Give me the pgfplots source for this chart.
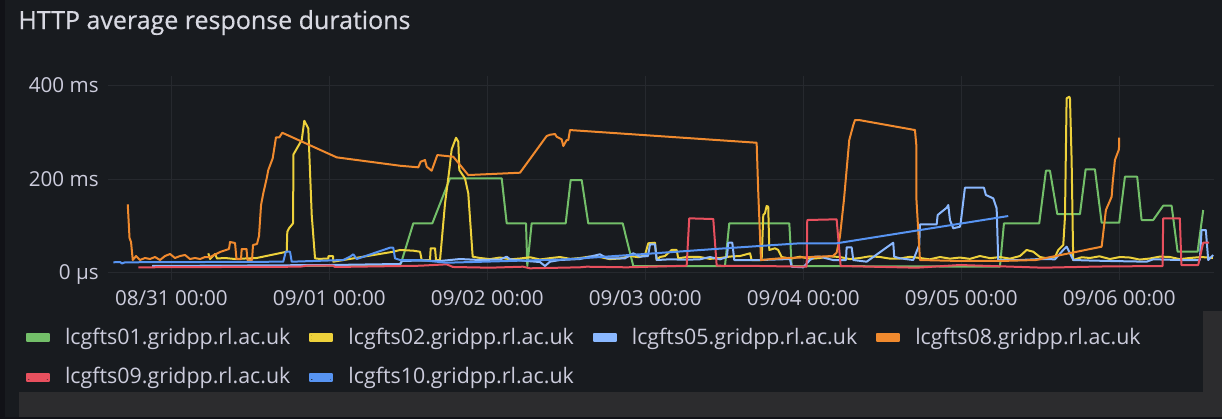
\documentclass[border=0pt]{standalone}
\usepackage{fontspec}
\setmainfont{Open Sans}
\newfontfamily\titlefont{Open Sans}[FakeBold=0.6]
\usepackage{pgfplots}
\pgfplotsset{compat=1.18}
\definecolor{bgdark}{HTML}{111217}
\definecolor{panel}{HTML}{181B1F}
\definecolor{greyband}{HTML}{2C2C2E}
\definecolor{gridc}{HTML}{26292E}
\definecolor{txt}{HTML}{CCCCDC}
\definecolor{ttl}{HTML}{D8D9E2}
\definecolor{cgreen}{HTML}{73BF69}
\definecolor{cyellow}{HTML}{EDD13B}
\definecolor{clblue}{HTML}{8AB8FF}
\definecolor{corange}{HTML}{F08A2E}
\definecolor{cred}{HTML}{E8505E}
\definecolor{cblue}{HTML}{5794F2}
\newcommand{\ticksize}{\fontsize{10.3}{12}\selectfont}
\newcommand{\legsize}{\fontsize{10.7}{12.5}\selectfont}
\newcommand{\titlesize}{\titlefont\fontsize{12.5}{14}\selectfont}
\begin{document}
\begin{tikzpicture}
\path[use as bounding box] (0pt,0pt) rectangle (611pt,209.5pt);
\fill[bgdark] (0pt,0pt) rectangle (611pt,209.5pt);
\fill[panel] (2.5pt,1pt) rectangle (611pt,209.5pt);
\fill[greyband] (9.5pt,1pt) rectangle (611pt,13.5pt);
\fill[greyband] (601.5pt,1pt) rectangle (611pt,54pt);
\node[anchor=base west, inner sep=0pt, text=ttl, font=\titlesize] at (9pt,195pt) {HTTP average response durations};
\begin{axis}[
  at={(54pt,69.5pt)}, anchor=south west,
  scale only axis, width=553pt, height=102pt,
  xmin=-9.62, xmax=158.4, ymin=-15.6, ymax=420,
  axis line style={draw=none},
  major tick length=0pt,
  xtick={0,24,48,72,96,120,144},
  xticklabels={08/31 00:00,09/01 00:00,09/02 00:00,09/03 00:00,09/04 00:00,09/05 00:00,09/06 00:00},
  ytick={0,200,400},
  yticklabels={0 µs,200 ms,400 ms},
  grid=major, major grid style={draw=gridc, line width=0.5pt},
  ticklabel style={text=txt, font=\ticksize},
  xticklabel style={anchor=base, inner sep=0pt, yshift=-12.5pt},
  yticklabel style={anchor=base east, inner sep=0pt, xshift=-4.5pt, yshift=-3.5pt},
  every axis plot/.append style={line width=1pt, line join=round, mark=none},
  legend columns=4,
  legend cell align=left,
  legend style={draw=none, fill=none, inner sep=0pt, outer sep=0pt,
    at={(axis description cs:-0.0741,-0.2353)}, anchor=north west,
    font=\legsize, text=txt, row sep=10pt,
    nodes={inner sep=0pt},
    /tikz/every odd column/.append style={column sep=7.5pt},
    /tikz/every even column/.append style={column sep=9.5pt}},
  legend image code/.code={\path (0pt,-1.75pt) rectangle (11pt,1.75pt); \draw[line width=3.2pt, line cap=round] (1.6pt,0pt) -- (9.4pt,0pt);},
]
% lcgfts01 (green)
\addplot[cgreen] coordinates {(19.55,14.3) (34.74,16.4) (34.89,20.1) (36.76,105.4) (39.65,105.4) (42.33,201.5) (50.19,201.5) (50.95,105.4) (53.88,105.4) (54.08,14.3) (54.74,105.4) (59.91,105.4) (60.67,197.9) (62.34,197.9) (63.34,105.4) (68.57,105.4) (70.18,14.3) (84.11,14.3) (84.76,105.4) (93.88,105.4) (94.24,14.3) (125.88,12.8) (126.49,105.4) (131.85,105.4) (132.87,217.7) (133.48,217.7) (134.59,125.3) (138.04,125.3) (138.90,220.7) (140.31,220.7) (141.33,106.7) (144.00,106.7) (144.87,204.9) (146.73,204.9) (147.40,112.5) (149.16,112.5) (150.68,143.0) (151.96,143.0) (152.87,44.8) (155.91,44.8) (156.76,133.8)};
\addlegendentry{lcgfts01.gridpp.rl.ac.uk}
% lcgfts02 (yellow)
\addplot[cyellow] coordinates {(5.62,41.4) (5.88,29.2) (6.64,39.9) (6.94,30.3) (8.15,31.4) (9.67,29.2) (11.19,30.3) (12.97,31.4) (17.53,44.8) (17.62,87.5) (17.88,94.8) (18.49,105.4) (18.56,252.7) (19.81,283.3) (20.20,324.4) (20.81,308.2) (21.33,123.2) (21.83,30.7) (22.59,29.2) (23.35,30.3) (23.85,30.3) (23.88,35.6) (24.56,35.6) (24.61,23.5) (33.72,44.8) (34.74,48.5) (36.76,47.0) (37.78,44.8) (38.04,27.1) (39.30,27.1) (39.40,52.1) (40.06,52.1) (40.21,27.1) (40.82,27.1) (41.58,148.1) (42.23,219.2) (42.59,263.4) (43.25,288.2) (43.60,279.6) (43.75,219.2) (44.61,201.5) (45.11,169.5) (45.78,34.2) (46.89,31.4) (48.4,29.0) (49.93,32.4) (51.5,28.5) (52.97,30.3) (54.5,33.0) (56.00,28.2) (57.5,31.0) (59.04,33.5) (60.6,29.5) (62.08,31.4) (63.6,34.5) (65.12,33.5) (66.6,29.0) (68.16,30.3) (69.68,35.6) (71.0,33.0) (71.96,37.8) (72.46,62.8) (73.48,64.0) (73.73,27.1) (74.23,33.5) (74.99,35.6) (76.01,48.5) (76.77,48.5) (77.01,30.7) (78.6,34.0) (80.31,33.5) (81.8,29.5) (83.35,31.4) (84.9,34.5) (86.39,35.6) (87.91,41.4) (88.16,27.1) (89.68,27.1) (89.93,123.2) (90.18,126.8) (90.44,142.4) (90.68,140.9) (90.84,48.5) (91.70,52.1) (92.20,48.5) (92.72,33.5) (94.1,30.0) (95.50,34.2) (97.0,29.5) (98.54,31.4) (100.0,35.0) (101.57,33.5) (103.1,29.0) (104.61,31.4) (106.1,35.0) (107.65,33.5) (109.2,30.0) (110.69,30.3) (112.2,34.0) (113.73,31.4) (115.2,28.5) (116.77,33.5) (118.3,30.0) (119.80,32.4) (121.3,29.5) (122.84,35.6) (124.4,31.0) (125.88,33.5) (127.4,30.0) (128.92,35.6) (129.94,48.5) (130.94,44.8) (131.96,33.5) (133.1,30.5) (134.24,33.5) (134.74,48.5) (135.50,59.1) (135.76,119.5) (136.01,372.3) (136.41,375.7) (136.52,372.3) (136.77,240.6) (137.01,27.1) (138.3,33.0) (139.54,31.4) (141.0,35.0) (142.58,29.2) (144.1,33.5) (145.62,32.4) (147.1,28.0) (148.66,30.3) (150.2,34.5) (151.69,33.5) (153.2,29.0) (154.73,31.4) (156.5,33.5) (158.23,31.4)};
\addlegendentry{lcgfts02.gridpp.rl.ac.uk}
% lcgfts05 (light blue)
\addplot[clblue] coordinates {(-2.93,14.3) (11.95,15.4) (24.11,16.4) (34.74,18.6) (35.04,25.0) (37.78,26.0) (40.82,25.0) (43.86,29.2) (46.89,27.1) (49.93,28.2) (50.95,34.2) (51.45,28.6) (54.03,25.0) (56.00,22.8) (56.77,14.3) (57.52,23.5) (59.04,27.1) (62.08,29.2) (65.12,39.3) (66.18,30.7) (68.92,30.7) (70.18,41.4) (71.20,34.2) (72.41,35.6) (72.72,60.6) (73.48,60.6) (73.73,27.1) (75.75,28.6) (78.03,27.7) (80.31,28.6) (81.83,33.5) (83.35,28.6) (84.41,33.5) (84.61,64.0) (85.22,64.0) (85.52,27.1) (89.42,27.1) (93.98,29.2) (94.24,12.8) (96.00,11.5) (97.02,27.1) (97.78,34.2) (98.54,34.2) (100.51,27.1) (102.49,27.1) (102.59,54.2) (103.35,54.2) (103.60,27.1) (105.63,23.5) (109.67,64.0) (109.82,34.2) (110.69,30.7) (112.71,27.1) (113.62,59.1) (113.73,103.3) (116.27,103.3) (116.42,123.2) (117.79,138.7) (118.03,144.5) (118.29,112.5) (118.79,94.8) (119.80,98.2) (119.91,105.4) (120.56,181.4) (123.45,181.4) (123.75,165.9) (124.86,158.8) (125.38,137.5) (125.62,27.1) (128.92,27.1) (131.96,29.2) (134.24,28.6) (135.50,48.5) (136.01,55.5) (136.52,41.4) (137.02,27.1) (139.54,26.0) (142.58,25.0) (148.16,23.5) (149.16,28.6) (153.21,27.1) (156.25,27.1) (156.51,91.1) (157.16,91.1) (157.52,27.1) (158.28,37.8)};
\addlegendentry{lcgfts05.gridpp.rl.ac.uk}
% lcgfts08 (orange)
\addplot[corange] coordinates {(-6.62,146.0) (-6.35,74.1) (-6.12,65.5) (-5.86,27.1) (-5.36,35.6) (-4.75,27.1) (-4.00,31.4) (-3.24,29.2) (-2.48,33.5) (-1.72,27.1) (-0.96,35.6) (-0.20,39.9) (0.56,31.4) (1.32,35.6) (2.08,37.8) (2.84,29.2) (3.60,31.4) (4.36,29.2) (5.12,33.5) (5.88,33.5) (7.40,44.2) (8.76,50.6) (8.92,65.5) (9.68,63.4) (9.90,29.2) (10.59,29.2) (10.69,50.6) (11.42,50.6) (11.57,27.1) (12.26,27.1) (12.41,59.1) (13.02,61.3) (13.32,78.3) (13.63,144.5) (13.97,169.5) (14.49,201.5) (14.73,219.2) (15.40,244.2) (15.90,289.0) (16.41,289.0) (16.86,298.8) (25.12,246.3) (34.74,228.4) (37.52,225.0) (37.88,236.9) (38.54,240.6) (38.80,226.3) (39.55,217.7) (40.41,251.2) (42.84,247.6) (45.11,208.5) (52.97,213.5) (57.02,291.8) (57.53,294.6) (58.29,296.1) (58.54,290.3) (59.30,284.7) (59.55,270.4) (60.06,283.3) (60.31,283.3) (60.56,304.6) (88.92,277.5) (89.17,169.5) (89.58,27.1) (92.46,30.7) (95.50,32.4) (100.51,35.6) (101.07,42.7) (101.57,76.8) (102.18,155.2) (102.99,283.3) (103.60,315.3) (103.86,325.9) (104.51,325.9) (112.97,304.6) (113.20,268.9) (113.20,155.2) (113.73,27.1) (119.80,25.0) (125.88,25.0) (131.35,27.1) (141.33,55.5) (141.98,133.8) (142.85,162.2) (143.00,190.8) (143.35,240.6) (143.96,263.4) (144.00,288.2)};
\addlegendentry{lcgfts08.gridpp.rl.ac.uk}
% lcgfts09 (red)
\addplot[cred] coordinates {(-5.01,11.5) (19.55,12.8) (20.57,14.9) (24.56,14.9) (24.87,12.2) (37.78,14.9) (41.83,17.9) (42.79,12.2) (48.41,10.7) (53.42,12.8) (54.49,9.4) (62.08,11.5) (63.10,12.8) (69.18,11.5) (78.29,14.9) (78.68,116.1) (82.33,114.6) (82.85,14.9) (89.42,14.3) (96.52,12.8) (96.61,112.5) (101.07,114.0) (101.68,14.3) (113.23,10.7) (119.80,16.4) (132.46,10.7) (141.07,13.2) (150.59,14.3) (150.68,116.1) (153.21,116.1) (153.45,16.4) (156.00,16.4) (156.76,64.0) (157.67,64.0)};
\addlegendentry{lcgfts09.gridpp.rl.ac.uk}
% lcgfts10 (blue)
\addplot[cblue] coordinates {(-8.81,22.2) (-7.79,22.8) (-7.49,19.6) (-7.03,22.2) (4.36,22.8) (17.01,23.5) (17.38,44.8) (18.03,44.8) (18.29,23.5) (26.13,27.1) (27.14,34.2) (27.65,39.3) (28.16,29.2) (33.22,53.4) (33.72,53.4) (33.98,30.7) (34.74,27.1) (37.78,27.1) (41.83,21.3) (50.0,24.5) (60.0,28.5) (71.95,40.0) (83.0,51.0) (95.50,62.8) (101.07,62.8) (127.14,121.0)};
\addlegendentry{lcgfts10.gridpp.rl.ac.uk}
\end{axis}
\end{tikzpicture}
\end{document}
